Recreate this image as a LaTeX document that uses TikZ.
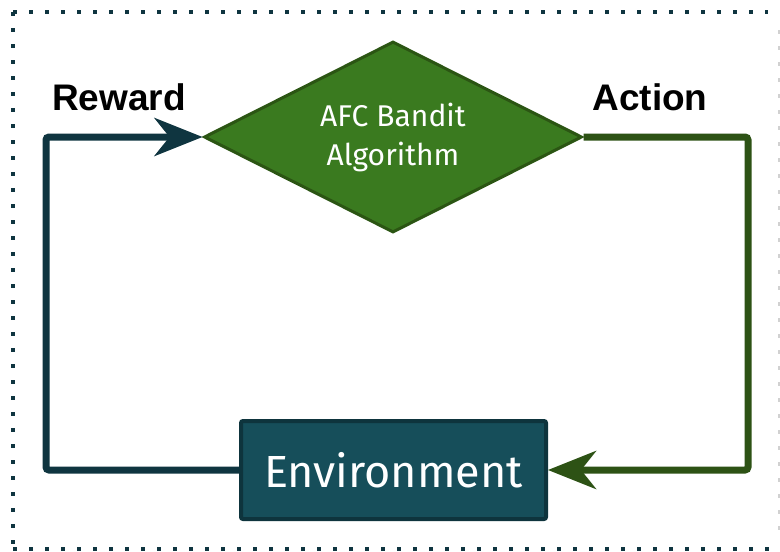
\documentclass[tikz,border=0pt]{standalone}
\usepackage{fontspec}
\setmainfont{Liberation Sans}
\newfontfamily\humfont{Fira Sans}
\usetikzlibrary{shapes.geometric,arrows.meta}
\definecolor{dotc}{HTML}{0F3540}
\definecolor{diafill}{HTML}{3A7A1F}
\definecolor{diaborder}{HTML}{2B5513}
\definecolor{rewc}{HTML}{0F3540}
\definecolor{actc}{HTML}{2D5215}
\definecolor{envfill}{HTML}{164E5A}
\definecolor{envborder}{HTML}{0E343D}
\begin{document}
\begin{tikzpicture}[x=1pt,y=-1pt,
  dotline/.style={dotc,line width=3.5pt,dash pattern=on 3.5pt off 12.5pt},
  graydash/.style={black!18,line width=1.5pt,dash pattern=on 4pt off 12pt},
  algobox/.style={diamond,draw=diaborder,fill=diafill,line width=3pt,
    minimum width=378pt,minimum height=191pt,aspect=1.97,inner sep=0pt,
    text=white,align=center,font=\humfont\fontsize{30}{39}\selectfont},
  envbox/.style={rectangle,rounded corners=2pt,draw=envborder,fill=envfill,line width=4pt,
    minimum width=305pt,minimum height=98pt,inner sep=0pt,
    text=white,font=\humfont\fontsize{45}{50}\selectfont},
  looplabel/.style={font=\bfseries\fontsize{37}{40}\selectfont,text=black},
  rewline/.style={rewc,line width=7pt,rounded corners=3pt,
    -{Stealth[length=48pt,width=38pt,inset=15pt]}},
  actline/.style={actc,line width=7pt,rounded corners=3pt,
    -{Stealth[length=48pt,width=38pt,inset=15pt]}}]
\useasboundingbox (0,0) rectangle (780,552);
\fill[white] (0,0) rectangle (780,552);
% border
\coordinate (b1) at (13,12);
\coordinate (b2) at (768,12);
\coordinate (b3) at (13,549);
\coordinate (b4) at (780,549);
\coordinate (b5) at (779,30);
\coordinate (b6) at (779,540);
\draw[dotline] (b1) -- (b2);
\draw[dotline] (b1) -- (b3);
\draw[dotline] (b3) -- (b4);
\draw[graydash] (b5) -- (b6);
% nodes
\node[algobox] (dia) at (393,137) {AFC Bandit\\Algorithm};
\node[envbox] (env) at (393.5,470) {Environment};
\node[looplabel] (rew) at (119,97) {Reward};
\node[looplabel] (act) at (650,97) {Action};
% corner coordinates
\coordinate (cL) at (46,300);
\coordinate (cR) at (748,300);
% connectors
\draw[rewline] (env.west) -- (env.west -| cL) -- (cL |- dia.west) -- (dia.west);
\draw[actline] (dia.east) -- (dia.east -| cR) -- (cR |- env.east) -- (env.east);
\end{tikzpicture}
\end{document}
